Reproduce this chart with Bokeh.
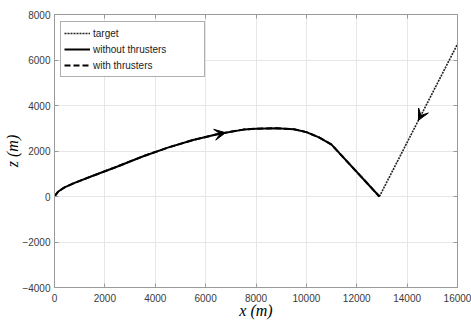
import numpy as np
from bokeh.plotting import figure
from bokeh.models import (Range1d, LinearAxis, FixedTicker, Legend, LegendItem,
                          Arrow, VeeHead)
from bokeh.embed import file_html
from bokeh.resources import INLINE

# ---- data ----
x_path = [0, 150, 400, 800, 1500, 2500, 3500, 4500, 5500, 6500, 7500, 8000,
          8800, 9500, 10000, 10500, 11000, 12900]
z_path = [0, 220, 400, 600, 900, 1320, 1760, 2150, 2480, 2750, 2940, 2980,
          3000, 2960, 2830, 2600, 2280, 0]
x_target = [12900, 16000]
z_target = [0, 6700]
x_ticks = [0, 2000, 4000, 6000, 8000, 10000, 12000, 14000, 16000]
z_ticks = [-4000, -2000, 0, 2000, 4000, 6000, 8000]
series_labels = ["target", "without thrusters", "with thrusters"]

GRID = "#e6e6e6"
AXC = "#9a9a9a"
TICKC = "#3a3a3a"
SANS = "Liberation Sans"
SERIF = "Liberation Serif"

p = figure(width=471, height=321, output_backend="svg", toolbar_location=None,
           x_range=Range1d(x_ticks[0], x_ticks[-1]),
           y_range=Range1d(z_ticks[0], z_ticks[-1]),
           min_border_left=54, min_border_right=14, min_border_top=14,
           min_border_bottom=34)
p.background_fill_color = "white"
p.border_fill_color = "white"
p.outline_line_color = AXC

for ax, ticks in ((p.xaxis[0], x_ticks), (p.yaxis[0], z_ticks)):
    ax.ticker = FixedTicker(ticks=ticks)
    ax.major_tick_in = 4
    ax.major_tick_out = 0
    ax.minor_tick_line_color = None
    ax.axis_line_color = AXC
    ax.major_tick_line_color = AXC
    ax.major_label_text_font = SANS
    ax.major_label_text_font_size = "10px"
    ax.major_label_text_color = TICKC
    ax.axis_label_text_font = SERIF
    ax.axis_label_text_font_size = "16px"
    ax.axis_label_text_font_style = "italic"
    ax.axis_label_text_color = "black"
p.xaxis[0].major_label_standoff = 6
p.yaxis[0].major_label_standoff = 4
p.xaxis[0].axis_label = "x (m)"
p.yaxis[0].axis_label = "z (m)"
p.xaxis[0].axis_label_standoff = -3
p.yaxis[0].axis_label_standoff = -2

# box-style axes on top and right (ticks only)
for loc, ticks in (("above", x_ticks), ("right", z_ticks)):
    ax = LinearAxis(ticker=FixedTicker(ticks=ticks))
    ax.major_tick_in = 4
    ax.major_tick_out = 0
    ax.minor_tick_line_color = None
    ax.axis_line_color = AXC
    ax.major_tick_line_color = AXC
    ax.major_label_text_font_size = "0px"
    ax.major_label_text_alpha = 0
    p.add_layout(ax, loc)

p.xgrid.ticker = FixedTicker(ticks=x_ticks)
p.ygrid.ticker = FixedTicker(ticks=z_ticks)
p.grid.grid_line_color = GRID
p.grid.grid_line_width = 1

r_t = p.line(x_target, z_target, line_color="#222222", line_width=1.6,
             line_dash="2 1")
r_wo = p.line(x_path, z_path, line_color="black", line_width=2)
r_w = p.line(x_path, z_path, line_color="black", line_width=2,
             line_dash="6 3")

# direction arrows placed on the data paths
ax_tip = 6790
az_tip = float(np.interp(ax_tip, x_path, z_path))
ax_tail = ax_tip - 400
az_tail = float(np.interp(ax_tail, x_path, z_path))
p.add_layout(Arrow(end=VeeHead(size=11, fill_color="black", line_color="black"),
                   x_start=ax_tail, y_start=az_tail, x_end=ax_tip, y_end=az_tip,
                   line_alpha=0))
frac = 0.5
tx_tip = x_target[0] + frac * (x_target[1] - x_target[0])
tz_tip = z_target[0] + frac * (z_target[1] - z_target[0])
tx_tail = x_target[0] + (frac + 0.1) * (x_target[1] - x_target[0])
tz_tail = z_target[0] + (frac + 0.1) * (z_target[1] - z_target[0])
p.add_layout(Arrow(end=VeeHead(size=11, fill_color="black", line_color="black"),
                   x_start=tx_tail, y_start=tz_tail, x_end=tx_tip, y_end=tz_tip,
                   line_alpha=0))

legend = Legend(items=[LegendItem(label=series_labels[0], renderers=[r_t]),
                       LegendItem(label=series_labels[1], renderers=[r_wo]),
                       LegendItem(label=series_labels[2], renderers=[r_w])],
                location=(6, 210), padding=3, spacing=0, margin=0,
                glyph_width=26, glyph_height=16, label_height=16,
                label_width=108, label_standoff=3,
                label_text_font=SANS, label_text_font_size="10px",
                label_text_color="#222222",
                border_line_color="#606060", border_line_width=1,
                background_fill_color="white", background_fill_alpha=1)
p.add_layout(legend, "center")

open("out.html", "w").write(file_html(p, INLINE))
